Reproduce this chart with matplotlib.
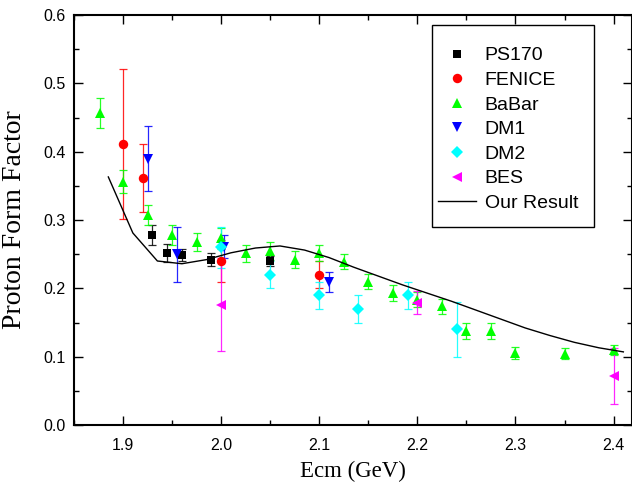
import matplotlib
matplotlib.use("Agg")
import matplotlib.pyplot as plt
from matplotlib.ticker import MultipleLocator, FormatStrFormatter
from matplotlib.patches import Rectangle

# ---------------- data ----------------
ps170_x = [1.930, 1.945, 1.960, 1.990, 2.050]
ps170_y = [0.278, 0.252, 0.249, 0.242, 0.240]
ps170_e = [0.014, 0.013, 0.009, 0.010, 0.008]

fenice_x = [1.900, 1.920, 2.000, 2.100]
fenice_y = [0.411, 0.361, 0.240, 0.220]
fenice_e = [0.110, 0.050, 0.030, 0.020]

babar_x = [1.877, 1.900, 1.925, 1.950, 1.975, 2.000, 2.025, 2.050, 2.075, 2.100,
           2.125, 2.150, 2.175, 2.200, 2.225, 2.250, 2.275, 2.300, 2.350, 2.400]
babar_y = [0.456, 0.356, 0.307, 0.278, 0.268, 0.273, 0.251, 0.255, 0.242, 0.252,
           0.239, 0.210, 0.193, 0.183, 0.174, 0.138, 0.138, 0.105, 0.104, 0.110]
babar_e = [0.022, 0.017, 0.015, 0.014, 0.013, 0.016, 0.0125, 0.0135, 0.0125, 0.012,
           0.011, 0.0115, 0.0115, 0.011, 0.011, 0.0115, 0.0115, 0.009, 0.008, 0.0075]

dm1_x = [1.925, 1.955, 2.003, 2.110]
dm1_y = [0.390, 0.250, 0.261, 0.209]
dm1_e = [0.047, 0.040, 0.017, 0.015]

dm2_x = [2.000, 2.050, 2.100, 2.140, 2.190, 2.240]
dm2_y = [0.260, 0.220, 0.190, 0.170, 0.190, 0.140]
dm2_e = [0.030, 0.020, 0.020, 0.020, 0.020, 0.040]

bes_x = [2.000, 2.200, 2.400]
bes_y = [0.176, 0.179, 0.072]
bes_e = [0.068, 0.017, 0.041]

model_x = [1.885, 1.910, 1.935, 1.960, 1.985, 2.010, 2.035, 2.060, 2.085, 2.110,
           2.135, 2.160, 2.185, 2.210, 2.235, 2.260, 2.285, 2.310, 2.335, 2.360,
           2.385, 2.410]
model_y = [0.363, 0.281, 0.240, 0.236, 0.242, 0.252, 0.259, 0.262, 0.256, 0.245,
           0.231, 0.218, 0.205, 0.193, 0.181, 0.168, 0.155, 0.142, 0.131, 0.121,
           0.113, 0.107]

x_ticks = [1.9, 2.0, 2.1, 2.2, 2.3, 2.4]
y_ticks = [0.0, 0.1, 0.2, 0.3, 0.4, 0.5, 0.6]

# ---------------- figure ----------------
fig = plt.figure(figsize=(6.32, 4.87), dpi=100)
ax = fig.add_axes([74/632, 62/487, 558/632, 410/487])

sans = ["Liberation Sans", "DejaVu Sans"]
serif = ["Liberation Serif", "DejaVu Serif"]

series = [
    ("PS170", ps170_x, ps170_y, ps170_e, "#000000", "s", 5.8),
    ("FENICE", fenice_x, fenice_y, fenice_e, "#ff0000", "o", 6.8),
    ("BaBar", babar_x, babar_y, babar_e, "#00ff00", "^", 7.2),
    ("DM1", dm1_x, dm1_y, dm1_e, "#0000ff", "v", 7.2),
    ("DM2", dm2_x, dm2_y, dm2_e, "#00ffff", "D", 6.2),
    ("BES", bes_x, bes_y, bes_e, "#ff00ff", "<", 7.5),
]

for i, (lab, x, y, e, c, m, ms) in enumerate(series):
    ax.errorbar(x, y, yerr=e, fmt="none", ecolor=c, elinewidth=0.9,
                capsize=3.2, capthick=0.9, zorder=2 + i * 0.1, alpha=0.85)
    ax.plot(x, y, linestyle="none", marker=m, color=c, markersize=ms,
            markeredgewidth=0, label=lab, zorder=3 + i * 0.1)

ax.plot(model_x, model_y, color="black", linewidth=1.0, label="Our Result", zorder=4)

ax.set_xlim(1.85, 1.85 + 558 / 981)
ax.set_ylim(0.0, 0.6)
ax.set_xticks(x_ticks)
ax.set_yticks(y_ticks)
ax.xaxis.set_minor_locator(MultipleLocator(0.05))
ax.yaxis.set_minor_locator(MultipleLocator(0.05))
ax.xaxis.set_major_formatter(FormatStrFormatter("%.1f"))
ax.yaxis.set_major_formatter(FormatStrFormatter("%.1f"))

ax.tick_params(which="both", direction="in", top=True, right=True, width=1.0,
               color="black")
ax.tick_params(which="major", length=6.5)
ax.tick_params(which="minor", length=3.5)
ax.tick_params(axis="x", which="major", pad=9)
ax.tick_params(axis="y", which="major", pad=6)
for lbl in ax.get_xticklabels() + ax.get_yticklabels():
    lbl.set_fontfamily(sans)
    lbl.set_fontsize(11.5)

for sp in ax.spines.values():
    sp.set_linewidth(1.5)

ax.set_xlabel("Ecm (GeV)", fontfamily=serif, fontsize=16.5, labelpad=6)
ax.set_ylabel("Proton Form Factor", fontfamily=serif, fontsize=20, labelpad=12)

# legend frame drawn separately (axes coordinates)
ax.add_patch(Rectangle((0.6416, 0.4829), 0.9319 - 0.6416, 0.9756 - 0.4829,
                       transform=ax.transAxes, facecolor="white",
                       edgecolor="black", linewidth=1.0, zorder=5))
leg = ax.legend(loc="upper right", bbox_to_anchor=(0.9247, 0.951),
                prop={"family": sans, "size": 14}, frameon=False,
                borderpad=0.6, labelspacing=0.36, handlelength=1.95,
                handletextpad=0.45, borderaxespad=0.0, numpoints=1)
leg.set_zorder(6)

fig.savefig("out.png", dpi=100)
